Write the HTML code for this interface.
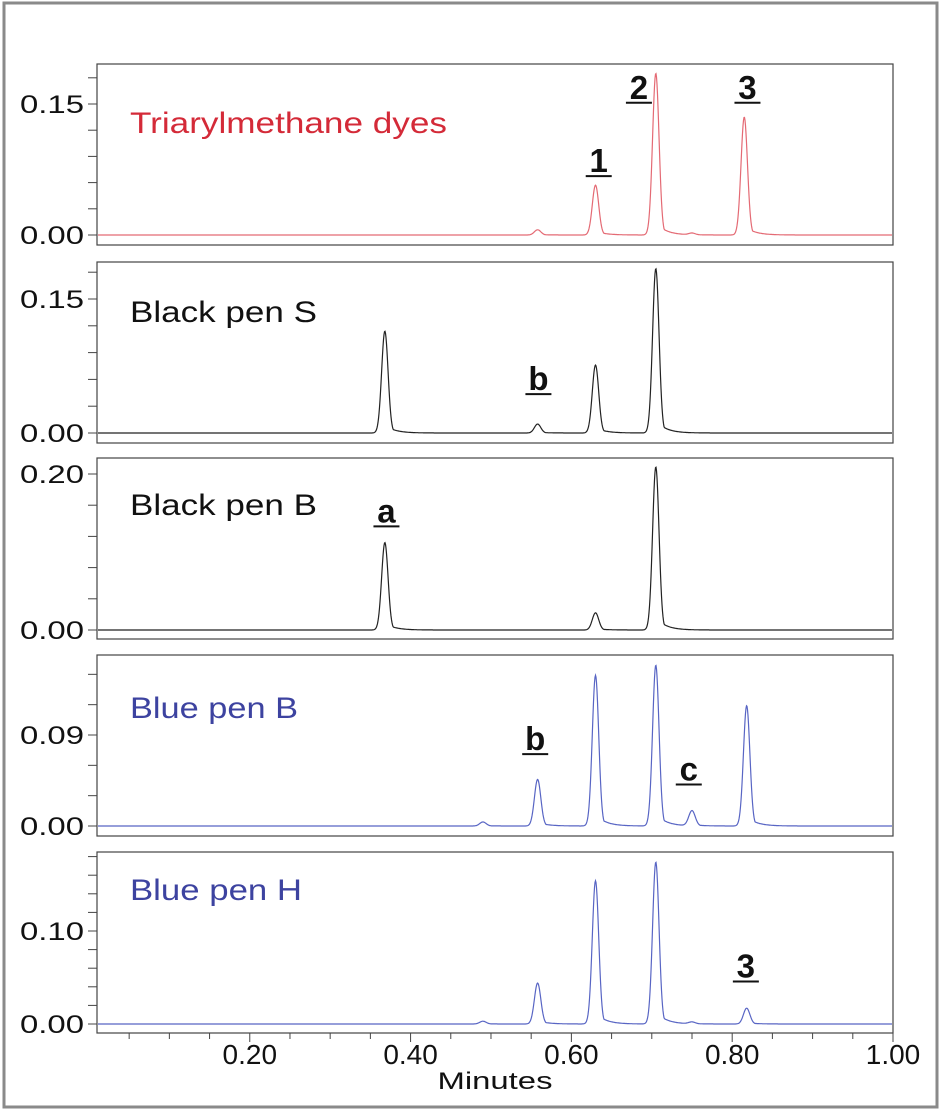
<!DOCTYPE html>
<html><head><meta charset="utf-8"><style>
html,body{margin:0;padding:0;background:#fff}
svg{display:block}
text{font-family:"Liberation Sans",sans-serif}
</style></head><body>
<svg id="chart" width="942" height="1115" viewBox="0 0 942 1115">
<rect x="4" y="3" width="933" height="1104" fill="#fff" stroke="#8a8a8a" stroke-width="3"/>
<g id="plots"></g>
</svg>
<script>
// ---- data ----
const panelNames = ["Triarylmethane dyes","Black pen S","Black pen B","Blue pen B","Blue pen H"];
const peakTimes1 = [0.558,0.63,0.705,0.75,0.815];
const peakHeights1 = [0.006,0.057,0.185,0.002,0.135];
const peakTimes2 = [0.368,0.558,0.63,0.705];
const peakHeights2 = [0.114,0.010,0.076,0.184];
const peakTimes3 = [0.368,0.63,0.705];
const peakHeights3 = [0.112,0.022,0.209];
const peakTimes4 = [0.49,0.558,0.63,0.705,0.75,0.818];
const peakHeights4 = [0.004,0.046,0.149,0.159,0.015,0.119];
const peakTimes5 = [0.49,0.558,0.63,0.705,0.75,0.818];
const peakHeights5 = [0.003,0.044,0.154,0.174,0.002,0.017];
const yTickLabels = [["0.00","0.15"],["0.00","0.15"],["0.00","0.20"],["0.00","0.09"],["0.00","0.10"]];
const xTickLabels = ["0.20","0.40","0.60","0.80","1.00"];
const annoText = ["1","2","3","b","a","b","c","3"];
const annoPanel = [0,0,0,1,2,3,3,4];
const annoTime = [0.634,0.684,0.819,0.559,0.370,0.555,0.746,0.817];
const annoValue = [0.072,0.156,0.156,0.048,0.138,0.075,0.045,0.050];

// ---- layout ----
const NS="http://www.w3.org/2000/svg";
const g=document.getElementById('plots');
const X0=97, X1=893, TMIN=0.01, TMAX=1.0;
const panelTops=[64,262,458,655,852], panelH=181;
const zeroY=[235,433,630,826,1024];
const pxPerUnit=[131/0.15,134/0.15,156/0.20,91/0.09,93/0.10];
const minorStep=[0.03,0.03,0.04,0.03,0.02];
const lineColors=["#e46a74","#222","#222","#5865c4","#5865c4"];
const textColors=["#d42a38","#111","#111","#3d43a0","#3d43a0"];
const labelW=[317,187,187,168,172];
const allTimes=[peakTimes1,peakTimes2,peakTimes3,peakTimes4,peakTimes5];
const allHeights=[peakHeights1,peakHeights2,peakHeights3,peakHeights4,peakHeights5];
function xS(t){return X0+(t-TMIN)/(TMAX-TMIN)*(X1-X0);}
function yS(i,v){return zeroY[i]-v*pxPerUnit[i];}
function mk(tag,attrs,parent){const e=document.createElementNS(NS,tag);for(const k in attrs)e.setAttribute(k,attrs[k]);(parent||g).appendChild(e);return e;}
function peakShape(dt){const s=0.0040;let v=Math.exp(-dt*dt/(2*s*s));if(dt>0)v=Math.max(v,0.08*Math.exp(-dt/0.012));return v;}

for(let i=0;i<5;i++){
  const top=panelTops[i];
  const fr=mk('rect',{x:X0,y:top,width:X1-X0,height:panelH,fill:'none',stroke:'#444','stroke-width':1.2});
  
  
  for(let v=0;v<=0.25;v+=minorStep[i]){
    const y=yS(i,v); if(y<top+3)break;
    const t=mk('line',{x1:X0-9,x2:X0,y1:y,y2:y,stroke:'#444','stroke-width':1});
    
    
  }
  yTickLabels[i].forEach(lbl=>{
    const y=yS(i,parseFloat(lbl));
    const tl=mk('text',{x:84,y:y+9,'text-anchor':'end','font-size':25,fill:'#111',textLength:64,lengthAdjust:'spacingAndGlyphs'});
    tl.textContent=lbl;
    
    
  });
  let d='';
  for(let px=X0+1;px<=X1-1;px+=0.5){
    const t=TMIN+(px-X0)/(X1-X0)*(TMAX-TMIN);
    let v=0;
    allTimes[i].forEach((pt,k)=>{v+=allHeights[i][k]*peakShape(t-pt);});
    d+=(d?'L':'M')+px.toFixed(1)+','+yS(i,v).toFixed(1);
  }
  const p=mk('path',{d:d,fill:'none',stroke:lineColors[i],'stroke-width':1.2});
  
  
  const tt=mk('text',{x:130,y:top+(i==0?69:i==1?60:i==2?57:i==3?63:48),'font-size':30,fill:textColors[i],textLength:labelW[i],lengthAdjust:'spacingAndGlyphs'});
  tt.textContent=panelNames[i];
  
  
}
annoText.forEach((s,k)=>{
  const i=annoPanel[k];
  const x=xS(annoTime[k]), y=yS(i,annoValue[k]);
  const a=mk('text',{x:x,y:y,'text-anchor':'middle','font-size':33,'font-weight':'bold',fill:'#111'});
  a.textContent=s;
  
  
  const u=mk('line',{x1:x-13,x2:x+13,y1:y+4,y2:y+4,stroke:'#111','stroke-width':2});
  
  
});
const bot=panelTops[4]+panelH;
for(let t=0.05;t<=1.0001;t+=0.05){
  const major=Math.abs(t*5-Math.round(t*5))<1e-6;
  const x=xS(t);
  const tk=mk('line',{x1:x,x2:x,y1:bot,y2:bot+(major?9:6),stroke:'#444','stroke-width':1});
  
  
}
xTickLabels.forEach(l=>{
  const x=xS(parseFloat(l));
  const tl=mk('text',{x:x,y:1064,'text-anchor':'middle','font-size':28,fill:'#111'});
  tl.textContent=l;
  
  
});
const xt=mk('text',{x:495,y:1089,'text-anchor':'middle','font-size':24,fill:'#111',textLength:115,lengthAdjust:'spacingAndGlyphs'});
xt.textContent='Minutes';


</script>
</body></html>
